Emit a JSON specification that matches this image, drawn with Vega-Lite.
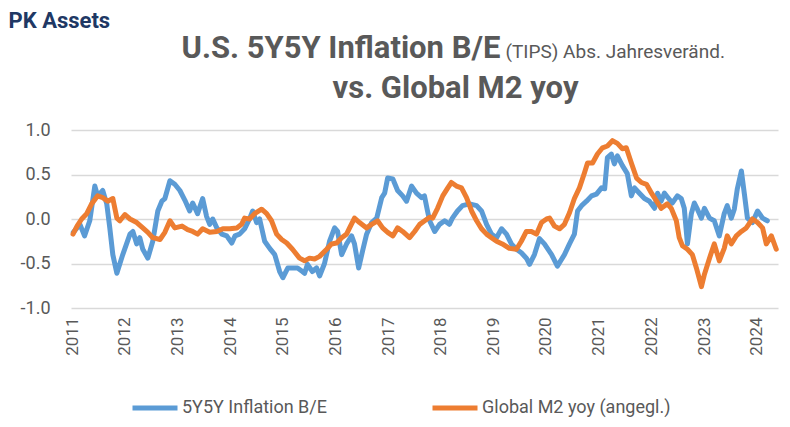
{
  "$schema": "https://vega.github.io/schema/vega-lite/v6.json",
  "width": 707,
  "height": 178,
  "autosize": {"type": "none"},
  "padding": {"left": 71, "top": 130, "right": 12, "bottom": 119},
  "background": "white",
  "config": {"view": {"stroke": null}, "font": "Roboto"},
  "datasets": {
    "be": [
      {"date":"2011-01-10","value":-0.15},{"date":"2011-02-25","value":-0.06},{"date":"2011-03-29","value":-0.19},{"date":"2011-05-04","value":-0.02},{"date":"2011-06-08","value":0.37},{"date":"2011-06-28","value":0.26},{"date":"2011-08-02","value":0.32},{"date":"2011-08-30","value":0.17},{"date":"2011-09-20","value":-0.10},{"date":"2011-10-11","value":-0.40},{"date":"2011-11-08","value":-0.61},{"date":"2011-12-19","value":-0.40},
      {"date":"2012-02-07","value":-0.17},{"date":"2012-02-27","value":-0.14},{"date":"2012-03-25","value":-0.28},{"date":"2012-04-15","value":-0.21},{"date":"2012-05-06","value":-0.34},{"date":"2012-06-10","value":-0.44},{"date":"2012-07-14","value":-0.25},{"date":"2012-08-18","value":0.09},{"date":"2012-09-15","value":0.20},{"date":"2012-10-06","value":0.23},{"date":"2012-11-10","value":0.43},{"date":"2012-12-14","value":0.39},
      {"date":"2013-01-18","value":0.32},{"date":"2013-02-22","value":0.21},{"date":"2013-03-27","value":0.09},{"date":"2013-04-17","value":0.18},{"date":"2013-05-21","value":0.06},{"date":"2013-06-25","value":0.23},{"date":"2013-07-22","value":0.03},{"date":"2013-08-13","value":-0.06},{"date":"2013-09-03","value":0.00},{"date":"2013-10-01","value":-0.10},{"date":"2013-11-05","value":-0.17},{"date":"2013-12-09","value":-0.19},
      {"date":"2014-01-13","value":-0.27},{"date":"2014-02-04","value":-0.19},{"date":"2014-03-08","value":-0.17},{"date":"2014-04-12","value":-0.11},{"date":"2014-05-16","value":0.00},{"date":"2014-06-07","value":0.09},{"date":"2014-07-04","value":-0.04},{"date":"2014-07-25","value":0.00},{"date":"2014-08-29","value":-0.25},{"date":"2014-10-03","value":-0.33},{"date":"2014-11-07","value":-0.40},{"date":"2014-12-11","value":-0.59},
      {"date":"2015-01-02","value":-0.66},{"date":"2015-02-06","value":-0.55},{"date":"2015-03-10","value":-0.55},{"date":"2015-04-14","value":-0.55},{"date":"2015-05-18","value":-0.59},{"date":"2015-06-02","value":-0.61},{"date":"2015-06-22","value":-0.51},{"date":"2015-07-26","value":-0.59},{"date":"2015-08-24","value":-0.55},{"date":"2015-09-14","value":-0.64},{"date":"2015-10-18","value":-0.50},{"date":"2015-11-22","value":-0.25},{"date":"2015-12-27","value":-0.10},
      {"date":"2016-01-17","value":-0.14},{"date":"2016-02-14","value":-0.40},{"date":"2016-03-19","value":-0.28},{"date":"2016-04-23","value":-0.19},{"date":"2016-05-13","value":-0.28},{"date":"2016-06-11","value":-0.55},{"date":"2016-07-08","value":-0.36},{"date":"2016-08-05","value":-0.17},{"date":"2016-09-09","value":-0.04},{"date":"2016-10-14","value":0.01},{"date":"2016-11-18","value":0.24},{"date":"2016-12-08","value":0.29},{"date":"2016-12-29","value":0.46},
      {"date":"2017-02-03","value":0.45},{"date":"2017-03-08","value":0.32},{"date":"2017-04-12","value":0.26},{"date":"2017-05-09","value":0.20},{"date":"2017-06-13","value":0.37},{"date":"2017-07-17","value":0.29},{"date":"2017-08-21","value":0.24},{"date":"2017-09-10","value":0.26},{"date":"2017-09-30","value":0.10},{"date":"2017-10-16","value":-0.02},{"date":"2017-11-20","value":-0.14},{"date":"2017-12-24","value":-0.06},
      {"date":"2018-01-28","value":-0.02},{"date":"2018-03-02","value":-0.06},{"date":"2018-03-23","value":0.01},{"date":"2018-04-27","value":0.09},{"date":"2018-06-01","value":0.15},{"date":"2018-07-19","value":0.17},{"date":"2018-09-07","value":0.15},{"date":"2018-10-11","value":0.09},{"date":"2018-11-15","value":-0.06},{"date":"2018-12-19","value":-0.17},
      {"date":"2019-01-23","value":-0.21},{"date":"2019-02-27","value":-0.11},{"date":"2019-04-02","value":-0.17},{"date":"2019-05-06","value":-0.28},{"date":"2019-06-10","value":-0.34},{"date":"2019-07-14","value":-0.38},{"date":"2019-08-18","value":-0.44},{"date":"2019-09-09","value":-0.51},{"date":"2019-10-13","value":-0.40},{"date":"2019-11-17","value":-0.22},{"date":"2019-12-21","value":-0.28},
      {"date":"2020-02-09","value":-0.40},{"date":"2020-03-20","value":-0.53},{"date":"2020-05-08","value":-0.40},{"date":"2020-06-12","value":-0.28},{"date":"2020-07-16","value":-0.17},{"date":"2020-08-07","value":0.09},{"date":"2020-09-04","value":0.15},{"date":"2020-10-08","value":0.20},{"date":"2020-11-12","value":0.26},{"date":"2020-12-16","value":0.28},
      {"date":"2021-01-20","value":0.35},{"date":"2021-02-11","value":0.34},{"date":"2021-03-02","value":0.69},{"date":"2021-03-29","value":0.73},{"date":"2021-04-19","value":0.62},{"date":"2021-05-10","value":0.71},{"date":"2021-06-14","value":0.60},{"date":"2021-07-18","value":0.51},{"date":"2021-08-15","value":0.26},{"date":"2021-09-06","value":0.35},{"date":"2021-10-10","value":0.29},{"date":"2021-11-14","value":0.23},{"date":"2021-12-18","value":0.20},
      {"date":"2022-01-23","value":0.12},{"date":"2022-02-13","value":0.29},{"date":"2022-03-10","value":0.20},{"date":"2022-04-01","value":0.29},{"date":"2022-04-21","value":0.25},{"date":"2022-05-26","value":0.18},{"date":"2022-06-30","value":0.26},{"date":"2022-07-27","value":0.23},{"date":"2022-08-17","value":0.12},{"date":"2022-09-08","value":-0.28},{"date":"2022-10-05","value":0.06},{"date":"2022-10-26","value":0.18},{"date":"2022-11-16","value":0.11},{"date":"2022-12-14","value":0.01},
      {"date":"2023-01-04","value":0.12},{"date":"2023-02-08","value":0.01},{"date":"2023-03-13","value":-0.02},{"date":"2023-04-17","value":-0.19},{"date":"2023-05-21","value":0.06},{"date":"2023-06-11","value":0.15},{"date":"2023-07-09","value":0.01},{"date":"2023-07-30","value":0.11},{"date":"2023-08-20","value":0.34},{"date":"2023-09-17","value":0.54},{"date":"2023-10-08","value":0.28},{"date":"2023-10-29","value":0.01},{"date":"2023-12-03","value":-0.04},
      {"date":"2024-01-07","value":0.09},{"date":"2024-02-11","value":0.01},{"date":"2024-03-15","value":-0.02}
    ],
    "m2": [
      {"date":"2011-01-08","value":-0.17},{"date":"2011-02-05","value":-0.08},{"date":"2011-03-09","value":0.00},{"date":"2011-04-13","value":0.06},{"date":"2011-05-17","value":0.17},{"date":"2011-06-28","value":0.26},{"date":"2011-08-02","value":0.24},{"date":"2011-09-06","value":0.20},{"date":"2011-10-11","value":0.23},{"date":"2011-11-08","value":0.01},{"date":"2011-11-29","value":-0.02},
      {"date":"2012-01-03","value":0.05},{"date":"2012-02-07","value":0.00},{"date":"2012-03-25","value":-0.04},{"date":"2012-05-06","value":-0.10},{"date":"2012-06-10","value":-0.15},{"date":"2012-07-14","value":-0.21},{"date":"2012-09-02","value":-0.23},{"date":"2012-10-06","value":-0.15},{"date":"2012-11-10","value":-0.02},{"date":"2012-12-14","value":-0.10},
      {"date":"2013-02-02","value":-0.08},{"date":"2013-03-13","value":-0.12},{"date":"2013-04-17","value":-0.14},{"date":"2013-05-21","value":-0.17},{"date":"2013-06-25","value":-0.11},{"date":"2013-08-13","value":-0.15},{"date":"2013-10-01","value":-0.14},{"date":"2013-11-12","value":-0.11},{"date":"2013-12-30","value":-0.11},
      {"date":"2014-02-17","value":-0.10},{"date":"2014-03-22","value":-0.06},{"date":"2014-04-12","value":0.01},{"date":"2014-05-16","value":0.00},{"date":"2014-06-20","value":0.06},{"date":"2014-08-08","value":0.11},{"date":"2014-09-12","value":0.06},{"date":"2014-10-16","value":-0.02},{"date":"2014-11-20","value":-0.17},{"date":"2014-12-25","value":-0.23},
      {"date":"2015-01-29","value":-0.27},{"date":"2015-03-10","value":-0.34},{"date":"2015-04-28","value":-0.44},{"date":"2015-06-02","value":-0.47},{"date":"2015-07-06","value":-0.44},{"date":"2015-08-10","value":-0.45},{"date":"2015-09-14","value":-0.42},{"date":"2015-11-02","value":-0.34},{"date":"2015-12-06","value":-0.28},
      {"date":"2016-01-10","value":-0.27},{"date":"2016-02-14","value":-0.21},{"date":"2016-03-19","value":-0.17},{"date":"2016-04-09","value":-0.10},{"date":"2016-05-13","value":0.01},{"date":"2016-06-17","value":-0.04},{"date":"2016-08-05","value":-0.10},{"date":"2016-09-09","value":-0.06},{"date":"2016-10-20","value":-0.02},{"date":"2016-11-24","value":-0.10},{"date":"2016-12-29","value":-0.15},
      {"date":"2017-02-03","value":-0.19},{"date":"2017-03-08","value":-0.10},{"date":"2017-04-12","value":-0.14},{"date":"2017-05-30","value":-0.21},{"date":"2017-07-04","value":-0.14},{"date":"2017-08-08","value":-0.06},{"date":"2017-09-12","value":-0.02},{"date":"2017-10-16","value":0.02},{"date":"2017-11-06","value":0.01},{"date":"2017-12-10","value":0.12},
      {"date":"2018-01-15","value":0.26},{"date":"2018-02-19","value":0.35},{"date":"2018-03-16","value":0.41},{"date":"2018-04-20","value":0.37},{"date":"2018-05-25","value":0.35},{"date":"2018-06-29","value":0.24},{"date":"2018-08-03","value":0.09},{"date":"2018-09-07","value":-0.02},{"date":"2018-10-11","value":-0.11},{"date":"2018-11-15","value":-0.17},{"date":"2018-12-19","value":-0.21},
      {"date":"2019-01-23","value":-0.25},{"date":"2019-03-04","value":-0.28},{"date":"2019-04-22","value":-0.33},{"date":"2019-06-10","value":-0.34},{"date":"2019-07-14","value":-0.25},{"date":"2019-08-18","value":-0.14},{"date":"2019-09-22","value":-0.14},{"date":"2019-10-27","value":-0.17},{"date":"2019-12-01","value":-0.04},
      {"date":"2020-01-05","value":0.00},{"date":"2020-01-26","value":0.01},{"date":"2020-02-29","value":-0.08},{"date":"2020-04-04","value":-0.11},{"date":"2020-05-08","value":-0.06},{"date":"2020-06-12","value":0.07},{"date":"2020-07-16","value":0.23},{"date":"2020-08-20","value":0.35},{"date":"2020-09-24","value":0.52},{"date":"2020-10-15","value":0.63},{"date":"2020-11-19","value":0.63},{"date":"2020-12-23","value":0.73},
      {"date":"2021-01-27","value":0.80},{"date":"2021-03-02","value":0.82},{"date":"2021-04-06","value":0.88},{"date":"2021-05-10","value":0.85},{"date":"2021-06-14","value":0.79},{"date":"2021-07-11","value":0.80},{"date":"2021-08-15","value":0.63},{"date":"2021-09-20","value":0.46},{"date":"2021-10-24","value":0.41},{"date":"2021-11-28","value":0.39},
      {"date":"2022-01-02","value":0.29},{"date":"2022-02-06","value":0.20},{"date":"2022-03-10","value":0.12},{"date":"2022-04-21","value":0.17},{"date":"2022-05-19","value":0.12},{"date":"2022-06-23","value":-0.02},{"date":"2022-07-13","value":-0.21},{"date":"2022-08-04","value":-0.30},{"date":"2022-09-08","value":-0.34},{"date":"2022-10-12","value":-0.40},{"date":"2022-11-09","value":-0.55},{"date":"2022-12-14","value":-0.76},
      {"date":"2023-01-04","value":-0.62},{"date":"2023-02-08","value":-0.44},{"date":"2023-03-13","value":-0.28},{"date":"2023-04-17","value":-0.47},{"date":"2023-05-21","value":-0.33},{"date":"2023-06-11","value":-0.19},{"date":"2023-07-09","value":-0.28},{"date":"2023-08-13","value":-0.19},{"date":"2023-09-17","value":-0.14},{"date":"2023-10-21","value":-0.10},{"date":"2023-12-03","value":0.00},
      {"date":"2024-01-07","value":-0.04},{"date":"2024-02-11","value":-0.10},{"date":"2024-03-08","value":-0.28},{"date":"2024-04-12","value":-0.19},{"date":"2024-05-16","value":-0.34}
    ]
  },
  "layer": [
    {
      "data": {"name": "be"},
      "mark": {"type": "line", "strokeWidth": 5, "strokeCap": "round", "strokeJoin": "round"},
      "encoding": {
        "x": {
          "field": "date", "type": "temporal",
          "scale": {"type": "utc", "domain": ["2010-12-25", "2024-05-28"]},
          "axis": {
            "orient": "bottom", "format": "%Y", "tickCount": {"interval": "year", "step": 1},
            "labelAngle": -90, "labelFontSize": 17, "labelColor": "#595959", "labelPadding": 9,
            "grid": false, "domain": false, "ticks": false, "tickSize": 0, "labelOverlap": false,
            "title": "vs. Global M2 yoy", "titleX": 384, "titleY": -211, "titleAlign": "center",
            "titleBaseline": "alphabetic", "titleFontSize": 31, "titleFontWeight": "bold", "titleColor": "#595959"
          }
        },
        "y": {
          "field": "value", "type": "quantitative",
          "scale": {"domain": [-1, 1]},
          "axis": {
            "orient": "left", "values": [-1, -0.5, 0, 0.5, 1],
            "labelExpr": "replace(format(datum.value, '.1f'), '\u2212', '-')",
            "labelFontSize": 18, "labelColor": "#595959", "labelPadding": 21,
            "grid": true, "gridColor": "#d9d9d9", "gridWidth": 1.5,
            "domain": false, "ticks": false, "tickSize": 0,
            "title": "PK Assets", "titleAngle": 0, "titleX": -63, "titleY": -103,
            "titleAlign": "left", "titleBaseline": "alphabetic", "titleFontSize": 22,
            "titleFontWeight": "bold", "titleColor": "#203864"
          }
        },
        "color": {
          "datum": "5Y5Y Inflation B/E", "type": "nominal",
          "scale": {"domain": ["5Y5Y Inflation B/E", "Global M2 yoy (angegl.)"], "range": ["#5B9BD5", "#ED7D31"]},
          "legend": {
            "orient": "none", "legendX": 59, "legendY": 253, "direction": "horizontal", "title": null,
            "symbolType": "stroke", "symbolSize": 2025, "symbolStrokeWidth": 5,
            "labelFontSize": 18, "labelColor": "#595959", "labelOffset": 2, "labelLimit": 400, "columnPadding": 95
          }
        }
      }
    },
    {
      "data": {"name": "m2"},
      "mark": {"type": "line", "strokeWidth": 5, "strokeCap": "round", "strokeJoin": "round"},
      "encoding": {
        "x": {
          "field": "date", "type": "temporal",
          "axis": {
            "orient": "top", "labels": false, "grid": false, "domain": false, "ticks": false, "tickSize": 0,
            "title": "U.S. 5Y5Y Inflation B/E", "titleX": 110, "titleY": -73, "titleAlign": "left",
            "titleBaseline": "alphabetic", "titleFontSize": 31, "titleFontWeight": "bold", "titleColor": "#595959"
          }
        },
        "y": {
          "field": "value", "type": "quantitative",
          "axis": {
            "orient": "right", "labels": false, "grid": false, "domain": false, "ticks": false, "tickSize": 0,
            "title": "(TIPS) Abs. Jahresveränd.", "titleAngle": 0, "titleX": -273, "titleY": -73,
            "titleAlign": "left", "titleBaseline": "alphabetic", "titleFontSize": 19,
            "titleFontWeight": "normal", "titleColor": "#595959"
          }
        },
        "color": {"datum": "Global M2 yoy (angegl.)", "type": "nominal"}
      }
    }
  ],
  "resolve": {"axis": {"x": "independent", "y": "independent"}}
}
